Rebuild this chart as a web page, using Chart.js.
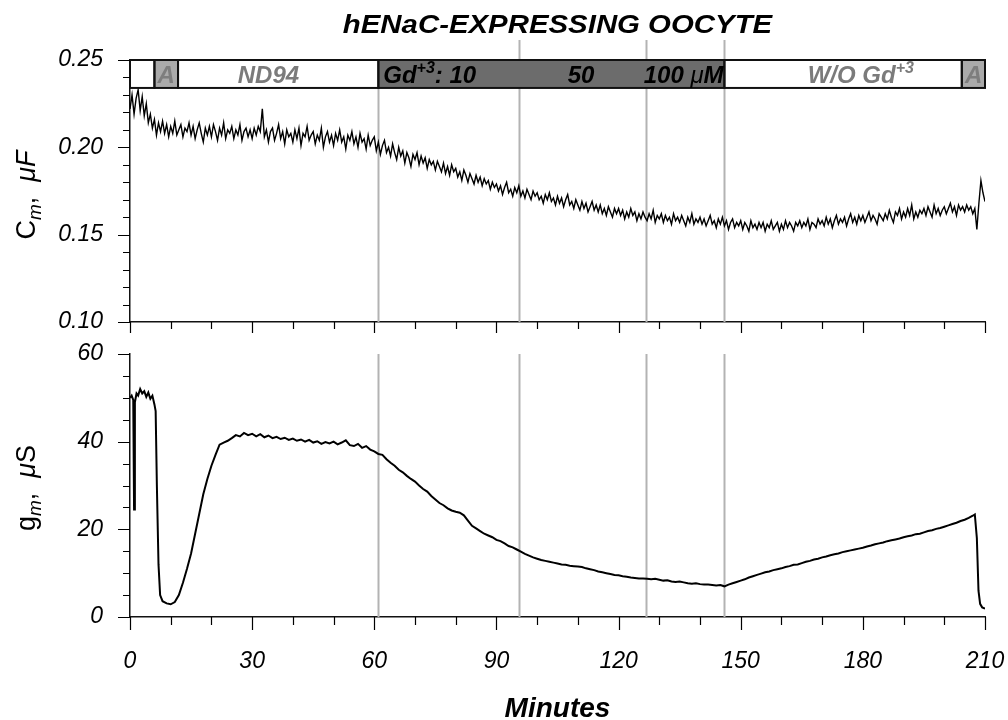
<!DOCTYPE html>
<html>
<head>
<meta charset="utf-8">
<script src="https://cdn.jsdelivr.net/npm/chart.js@4.4.0/dist/chart.umd.min.js"></script>
<style>
  body { margin: 0; background: #fff; }
  #wrap { position: relative; width: 1008px; height: 720px; }
  #cmChart { position: absolute; left: 0; top: 0; }
  #gmChart { position: absolute; left: 0; top: 340px; }
</style>
</head>
<body>
<div id="wrap">
  <canvas id="cmChart" width="1008" height="340"></canvas>
  <canvas id="gmChart" width="1008" height="380"></canvas>
</div>
<script>
// Cm (uF), one sample every half minute from 0 to 210
const cmStep = 0.5;
const cmValues = [
  0.222, 0.230, 0.219, 0.228, 0.233, 0.221, 0.229, 0.218, 0.225, 0.214,
  0.219, 0.211, 0.216, 0.207, 0.214, 0.209, 0.215, 0.208, 0.213, 0.206,
  0.212, 0.208, 0.215, 0.207, 0.210, 0.213, 0.206, 0.211, 0.209, 0.214,
  0.207, 0.212, 0.205, 0.210, 0.214, 0.208, 0.203, 0.211, 0.207, 0.212,
  0.206, 0.213, 0.209, 0.204, 0.211, 0.207, 0.214, 0.205, 0.210, 0.208,
  0.212, 0.205, 0.210, 0.207, 0.213, 0.204, 0.209, 0.211, 0.206, 0.210,
  0.205, 0.211, 0.207, 0.212, 0.209, 0.222, 0.206, 0.210, 0.203, 0.209,
  0.211, 0.204, 0.208, 0.213, 0.205, 0.209, 0.202, 0.210, 0.206, 0.208,
  0.203, 0.210, 0.205, 0.211, 0.201, 0.208, 0.206, 0.212, 0.204, 0.207,
  0.209, 0.202, 0.207, 0.204, 0.211, 0.200, 0.206, 0.209, 0.203, 0.207,
  0.201, 0.208, 0.204, 0.210, 0.203, 0.206, 0.199, 0.207, 0.204, 0.209,
  0.202, 0.206, 0.200, 0.208, 0.203, 0.205, 0.199, 0.207, 0.201, 0.204,
  0.206, 0.198, 0.203, 0.196, 0.201, 0.204, 0.197, 0.200, 0.195, 0.202,
  0.197, 0.193, 0.200, 0.195, 0.198, 0.191, 0.197, 0.194, 0.189, 0.196,
  0.193, 0.197, 0.190, 0.195, 0.191, 0.194, 0.188, 0.193, 0.190, 0.192,
  0.187, 0.192, 0.189, 0.186, 0.191, 0.185, 0.189, 0.184, 0.190, 0.186,
  0.188, 0.183, 0.186, 0.181, 0.187, 0.184, 0.180, 0.185, 0.182, 0.179,
  0.184, 0.180, 0.183, 0.178, 0.182, 0.179, 0.181, 0.176, 0.180, 0.177,
  0.179, 0.175, 0.178, 0.173, 0.177, 0.180, 0.174, 0.176, 0.172, 0.177,
  0.174, 0.178, 0.172, 0.175, 0.171, 0.176, 0.173, 0.170, 0.175, 0.172,
  0.174, 0.170, 0.172, 0.168, 0.173, 0.170, 0.174, 0.169, 0.171, 0.167,
  0.172, 0.168, 0.171, 0.166, 0.170, 0.173, 0.167, 0.169, 0.165, 0.170,
  0.167, 0.164, 0.169, 0.165, 0.168, 0.163, 0.166, 0.169, 0.164, 0.167,
  0.163, 0.167, 0.162, 0.165, 0.161, 0.166, 0.163, 0.160, 0.165, 0.162,
  0.165, 0.161, 0.164, 0.159, 0.163, 0.160, 0.165, 0.161, 0.163, 0.158,
  0.162, 0.159, 0.163, 0.160, 0.158, 0.162, 0.159, 0.164, 0.157, 0.161,
  0.159, 0.162, 0.157, 0.161, 0.158, 0.160, 0.156, 0.162, 0.158, 0.160,
  0.157, 0.161, 0.158, 0.155, 0.160, 0.157, 0.162, 0.156, 0.159, 0.157,
  0.160, 0.156, 0.159, 0.155, 0.158, 0.161, 0.156, 0.158, 0.154, 0.159,
  0.156, 0.160, 0.155, 0.158, 0.153, 0.157, 0.159, 0.154, 0.157, 0.155,
  0.158, 0.153, 0.157, 0.155, 0.152, 0.158, 0.154, 0.156, 0.153, 0.157,
  0.154, 0.157, 0.152, 0.156, 0.154, 0.158, 0.153, 0.155, 0.157, 0.152,
  0.156, 0.153, 0.158, 0.154, 0.157, 0.155, 0.152, 0.157, 0.155, 0.158,
  0.154, 0.157, 0.155, 0.159, 0.153, 0.157, 0.156, 0.154, 0.159, 0.156,
  0.158, 0.155, 0.160, 0.156, 0.159, 0.154, 0.158, 0.161, 0.156, 0.159,
  0.157, 0.160, 0.155, 0.159, 0.162, 0.157, 0.160, 0.156, 0.161, 0.158,
  0.161, 0.157, 0.160, 0.163, 0.158, 0.161, 0.159, 0.156, 0.162, 0.160,
  0.158, 0.162, 0.159, 0.164, 0.160, 0.157, 0.163, 0.161, 0.165, 0.159,
  0.163, 0.160, 0.165, 0.161, 0.167, 0.159, 0.163, 0.160, 0.164, 0.162,
  0.165, 0.161, 0.166, 0.163, 0.160, 0.167, 0.162, 0.165, 0.161, 0.164,
  0.166, 0.162, 0.165, 0.168, 0.163, 0.166, 0.161, 0.167, 0.164, 0.166,
  0.163, 0.167, 0.164, 0.166, 0.162, 0.165, 0.153, 0.168, 0.181, 0.174,
  0.169
];

// gm (uS): start (irregular), one sample per minute 31..207, then the final drop
const gmHeadMinutes = [0, 0.4, 0.8, 1.0, 1.2, 1.6, 2, 2.5, 3, 3.5, 4, 4.5, 5, 5.5, 6, 6.3, 6.6, 7, 7.4, 8, 9, 10,
  11, 12, 13, 14, 15, 16, 17, 18, 19, 20, 21, 22, 23, 24, 25, 26, 27, 28, 29, 30];
const gmHeadValues = [50, 50.5, 49.5, 24.5, 49, 51, 50.5, 52, 51, 51.5, 50.2, 51.2, 49.8, 50.5, 48.5, 47, 30, 12, 5, 3.6, 3.1, 2.9,
  3.4, 5, 7.8, 11, 14.5, 19, 23.5, 28, 31.5, 34.5, 37, 39.3, 39.8, 40.2, 40.8, 41.5, 41.2, 42, 41.5, 41.8];
const gmBodyStart = 31;
const gmBodyValues = [
  41.2, 41.7, 41.0, 41.4, 40.8, 41.1, 40.6, 40.9, 40.4, 40.7,
  40.2, 40.5, 40.0, 40.4, 39.8, 40.1, 39.5, 39.9, 39.6, 40.0,
  39.4, 39.8, 40.3, 39.2, 39.0, 39.5, 38.6, 39.0, 38.2, 37.8,
  37.2, 37.0, 36.0, 35.2, 34.5, 33.6, 33.0, 32.2, 31.5, 30.9,
  30.0, 29.2, 28.6, 27.6, 26.8, 26.0, 25.5, 24.8, 24.3, 24.0,
  23.8, 23.2, 22.0, 20.8, 20.2, 19.6, 19.0, 18.6, 18.2, 17.6,
  17.3, 16.8, 16.2, 15.9, 15.4, 14.9, 14.4, 14.0, 13.6, 13.3,
  13.0, 12.8, 12.6, 12.4, 12.2, 12.0, 11.9, 11.7, 11.6, 11.5,
  11.4, 11.1, 10.9, 10.7, 10.4, 10.2, 10.0, 9.8, 9.6, 9.5,
  9.3, 9.2, 9.0, 8.9, 8.8, 8.8, 8.7, 8.6, 8.7, 8.5,
  8.3, 8.4, 8.1, 8.0, 8.1, 7.9, 7.7, 7.6, 7.7, 7.5,
  7.4, 7.4, 7.3, 7.2, 7.3, 7.0, 7.4, 7.7, 8.0, 8.3,
  8.6, 9.0, 9.3, 9.6, 9.9, 10.2, 10.4, 10.7, 10.9, 11.1,
  11.4, 11.6, 11.9, 12.0, 12.3, 12.6, 12.8, 13.1, 13.3, 13.6,
  13.8, 14.1, 14.3, 14.5, 14.8, 15.0, 15.2, 15.4, 15.6, 15.8,
  16.1, 16.3, 16.6, 16.8, 17.0, 17.3, 17.5, 17.7, 17.9, 18.2,
  18.4, 18.6, 18.9, 19.0, 19.3, 19.6, 19.8, 20.1, 20.3, 20.6,
  20.9, 21.2, 21.5, 21.9, 22.2, 22.6, 23.1
];
const gmTailMinutes = [207.5, 208, 208.4, 208.8, 209.3, 210];
const gmTailValues = [23.4, 18, 6, 3, 2.2, 1.9];

// solution changes (minutes)
const markerMinutes = [61, 95.5, 126.8, 146];

// protocol bar at the top of the Cm panel
const bandStarts = [0, 6, 11.8, 61, 146, 204.3];
const bandEnds = [6, 11.8, 61, 146, 204.3, 210];
const bandTop = 0.25;
const bandBottom = 0.234;

const xMajorStep = 30;

const FONT = "'Liberation Sans', Arial, sans-serif";

const cmPoints = cmValues.map((v, i) => ({ x: i * cmStep, y: v }));
const gmPoints = gmHeadMinutes.map((m, i) => ({ x: m, y: gmHeadValues[i] }))
  .concat(gmBodyValues.map((v, i) => ({ x: gmBodyStart + i, y: v })))
  .concat(gmTailMinutes.map((m, i) => ({ x: m, y: gmTailValues[i] })));

// draws text made of several runs (font / vertical shift) side by side
function drawRuns(ctx, runs, x, y, align) {
  let total = 0;
  runs.forEach(r => { ctx.font = r.font; r.w = ctx.measureText(r.t).width; total += r.w; });
  let cx = align === 'center' ? x - total / 2 : (align === 'right' ? x - total : x);
  runs.forEach(r => {
    ctx.font = r.font;
    ctx.fillStyle = r.color || '#000';
    ctx.fillText(r.t, cx, y + (r.dy || 0));
    cx += r.w;
  });
}

function markerLines(chart, yFromFn) {
  const { ctx, chartArea, scales } = chart;
  ctx.save();
  ctx.strokeStyle = '#b3b3b3';
  ctx.lineWidth = 2;
  markerMinutes.forEach((m, i) => {
    const px = Math.round(scales.x.getPixelForValue(m)) + 0.5;
    ctx.beginPath();
    ctx.moveTo(px, yFromFn(i));
    ctx.lineTo(px, chartArea.bottom);
    ctx.stroke();
  });
  ctx.restore();
}

// tick marks (short minor, longer major), drawn outside the plot
function tickMarks(chart, yMajor, xLen) {
  const { ctx, chartArea, scales } = chart;
  ctx.save();
  ctx.strokeStyle = '#000';
  ctx.lineWidth = 1.2;
  ctx.beginPath();
  scales.x.ticks.forEach(t => {
    const px = Math.round(scales.x.getPixelForValue(t.value)) + 0.5;
    ctx.moveTo(px, chartArea.bottom);
    ctx.lineTo(px, chartArea.bottom + (t.value % xMajorStep === 0 ? xLen[1] : xLen[0]));
  });
  scales.y.ticks.forEach(t => {
    const py = Math.round(scales.y.getPixelForValue(t.value)) + 0.5;
    ctx.moveTo(chartArea.left, py);
    ctx.lineTo(chartArea.left - (yMajor(t.value) ? 12 : 7), py);
  });
  ctx.stroke();
  ctx.restore();
}

const cmMajor = v => Math.round(v * 100) % 5 === 0;
const gmMajor = v => Math.round(v) % 20 === 0;

const cmPlugin = {
  id: 'cmDecor',
  beforeDatasetsDraw(chart) {
    const yb = chart.scales.y.getPixelForValue(bandBottom);
    // the later markers show faintly above the protocol bar
    markerLines(chart, i => i === 0 ? yb : chart.chartArea.top - 20);
  },
  afterDraw(chart) {
    const { ctx, scales, chartArea } = chart;
    const x = scales.x, y = scales.y;
    const yt = y.getPixelForValue(bandTop), yb = y.getPixelForValue(bandBottom);
    const fills = ['#ffffff', '#aaaaaa', '#ffffff', '#6c6c6c', '#ffffff', '#aaaaaa'];
    ctx.save();
    bandStarts.forEach((s, i) => {
      const x0 = x.getPixelForValue(s), x1 = x.getPixelForValue(bandEnds[i]);
      ctx.fillStyle = fills[i];
      ctx.fillRect(x0, yt, x1 - x0, yb - yt);
    });
    ctx.strokeStyle = '#111';
    ctx.lineWidth = 2;
    bandStarts.forEach((s, i) => {
      const x0 = x.getPixelForValue(s), x1 = x.getPixelForValue(bandEnds[i]);
      ctx.strokeRect(x0, yt, x1 - x0, yb - yt);
    });
    const base = yb - 5;
    const bi = 'italic bold 24px ' + FONT;
    ctx.textBaseline = 'alphabetic';
    const grey = '#7b7b7b';
    drawRuns(ctx, [{ t: 'A', font: bi, color: '#7e7e7e' }], x.getPixelForValue(8.9), base, 'center');
    drawRuns(ctx, [{ t: 'A', font: bi, color: '#7e7e7e' }], x.getPixelForValue(207.2), base, 'center');
    drawRuns(ctx, [{ t: 'ND94', font: bi, color: grey }], x.getPixelForValue(34), base, 'center');
    drawRuns(ctx, [
      { t: 'Gd', font: bi },
      { t: '+3', font: 'italic bold 16px ' + FONT, dy: -10 },
      { t: ': 10', font: bi }
    ], x.getPixelForValue(62.2), base, 'left');
    drawRuns(ctx, [{ t: '50', font: bi }], x.getPixelForValue(110.8), base, 'center');
    drawRuns(ctx, [
      { t: '100 ', font: bi },
      { t: '\u03bc', font: 'italic 24px ' + FONT },
      { t: 'M', font: bi }
    ], x.getPixelForValue(145.8), base, 'right');
    drawRuns(ctx, [
      { t: 'W/O Gd', font: bi, color: grey },
      { t: '+3', font: 'italic bold 16px ' + FONT, dy: -10, color: grey }
    ], x.getPixelForValue(179.5), base, 'center');

    // chart title (the original face is a little wider than Liberation Sans)
    ctx.save();
    ctx.translate((chartArea.left + chartArea.right) / 2, 33);
    ctx.scale(1.13, 1);
    drawRuns(ctx, [{ t: 'hENaC-EXPRESSING OOCYTE', font: 'italic bold 26px ' + FONT }], 0, 0, 'center');
    ctx.restore();

    // y axis title
    ctx.translate(35, 195);
    ctx.rotate(-Math.PI / 2);
    drawRuns(ctx, [
      { t: 'C', font: '27px ' + FONT },
      { t: 'm', font: 'italic 19px ' + FONT, dy: 6 },
      { t: ',  ', font: '27px ' + FONT },
      { t: '\u03bcF', font: 'italic 27px ' + FONT }
    ], 0, 0, 'center');
    ctx.restore();
    tickMarks(chart, cmMajor, [7, 11]);
  }
};

const gmPlugin = {
  id: 'gmDecor',
  beforeDatasetsDraw(chart) {
    markerLines(chart, () => chart.chartArea.top);
  },
  afterDraw(chart) {
    const { ctx, chartArea } = chart;
    ctx.save();
    ctx.textBaseline = 'alphabetic';
    drawRuns(ctx, [{ t: 'Minutes', font: 'italic bold 28px ' + FONT }],
      (chartArea.left + chartArea.right) / 2, 377, 'center');
    ctx.translate(35, 148);
    ctx.rotate(-Math.PI / 2);
    drawRuns(ctx, [
      { t: 'g', font: '27px ' + FONT },
      { t: 'm', font: 'italic 19px ' + FONT, dy: 6 },
      { t: ',  ', font: '27px ' + FONT },
      { t: '\u03bc', font: 'italic 27px ' + FONT },
      { t: 'S', font: '27px ' + FONT }
    ], 0, 0, 'center');
    ctx.restore();
    tickMarks(chart, gmMajor, [8, 13]);
  }
};

const axisBorder = { display: true, color: '#111', width: 1.5 };
const tickFont = { family: FONT, size: 23, style: 'italic' };
// tick marks come from the plugin; the (invisible) grid tick length only sets the label gap
const hiddenTicks = { drawOnChartArea: false, drawTicks: true, tickColor: 'rgba(0,0,0,0)' };

function xScale(showLabels, height) {
  return {
    type: 'linear', min: 0, max: 210,
    border: axisBorder,
    grid: { ...hiddenTicks, tickLength: 31 },
    ticks: {
      stepSize: 10, autoSkip: false, maxRotation: 0, padding: 0,
      color: '#000', font: tickFont,
      callback: v => (showLabels && v % xMajorStep === 0) ? String(v) : ''
    },
    afterFit(s) { s.height = height; }
  };
}

function yScale(min, max, step, major, fmt) {
  return {
    min: min, max: max,
    border: axisBorder,
    grid: { ...hiddenTicks, tickLength: 27 },
    ticks: {
      stepSize: step, autoSkip: false, padding: 0,
      color: '#000', font: tickFont,
      callback: v => major(v) ? fmt(v) : ''
    },
    afterFit(s) { s.width = 130; }
  };
}

const commonOptions = {
  responsive: false,
  animation: false,
  events: [],
  plugins: { legend: { display: false }, tooltip: { enabled: false }, title: { display: false } },
  elements: { point: { radius: 0 }, line: { tension: 0 } }
};

new Chart(document.getElementById('cmChart'), {
  type: 'line',
  data: { datasets: [{ data: cmPoints, borderColor: '#000', borderWidth: 1.4 }] },
  options: {
    ...commonOptions,
    layout: { padding: { top: 60, right: 23, left: 0, bottom: 0 } },
    scales: {
      x: xScale(false, 18),
      y: yScale(0.10, 0.25, 0.01, cmMajor, v => v.toFixed(2))
    }
  },
  plugins: [cmPlugin]
});

new Chart(document.getElementById('gmChart'), {
  type: 'line',
  data: { datasets: [{ data: gmPoints, borderColor: '#000', borderWidth: 2 }] },
  options: {
    ...commonOptions,
    layout: { padding: { top: 14, right: 23, left: 0, bottom: 0 } },
    scales: {
      x: xScale(true, 103),
      y: yScale(0, 60, 5, gmMajor, v => String(Math.round(v)))
    }
  },
  plugins: [gmPlugin]
});
</script>
</body>
</html>
